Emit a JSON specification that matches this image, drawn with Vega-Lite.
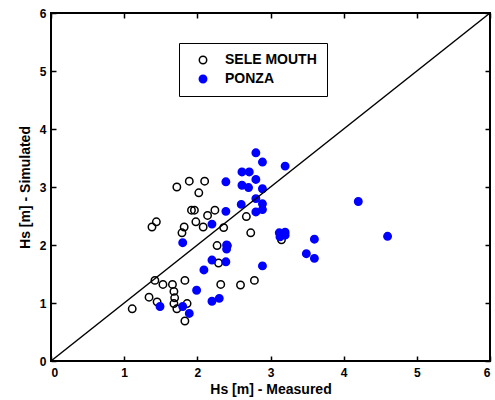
{
  "$schema": "https://vega.github.io/schema/vega-lite/v6.json",
  "width": 439,
  "height": 348,
  "autosize": {"type": "none"},
  "padding": {"left": 51, "top": 13, "right": 5, "bottom": 39},
  "background": "white",
  "config": {
    "view": {"stroke": "black", "strokeWidth": 2},
    "axis": {
      "labelFont": "Liberation Sans",
      "labelFontWeight": "bold",
      "labelFontSize": 12,
      "labelColor": "black",
      "titleFont": "Liberation Sans",
      "titleFontWeight": "bold",
      "titleFontSize": 14,
      "titleColor": "black",
      "domain": false,
      "grid": false,
      "tickColor": "black",
      "tickSize": -5,
      "tickWidth": 1.5
    },
    "legend": {
      "orient": "none",
      "legendX": 128,
      "legendY": 30,
      "padding": 10,
      "strokeColor": "black",
      "fillColor": "white",
      "labelFont": "Liberation Sans",
      "labelFontWeight": "bold",
      "labelFontSize": 14,
      "labelColor": "black",
      "symbolType": "circle",
      "symbolSize": 55,
      "symbolStrokeWidth": 1.5,
      "symbolOffset": 7,
      "labelOffset": 15,
      "rowPadding": 5
    }
  },
  "resolve": {"axis": {"x": "independent", "y": "independent"}},
  "layer": [
    {
      "data": {
        "values": [
          {"site": "SELE MOUTH", "measured": 1.72, "simulated": 3.00},
          {"site": "SELE MOUTH", "measured": 1.89, "simulated": 3.10},
          {"site": "SELE MOUTH", "measured": 2.10, "simulated": 3.10},
          {"site": "SELE MOUTH", "measured": 2.02, "simulated": 2.90},
          {"site": "SELE MOUTH", "measured": 1.92, "simulated": 2.60},
          {"site": "SELE MOUTH", "measured": 1.96, "simulated": 2.60},
          {"site": "SELE MOUTH", "measured": 1.44, "simulated": 2.40},
          {"site": "SELE MOUTH", "measured": 1.38, "simulated": 2.31},
          {"site": "SELE MOUTH", "measured": 1.82, "simulated": 2.31},
          {"site": "SELE MOUTH", "measured": 1.79, "simulated": 2.21},
          {"site": "SELE MOUTH", "measured": 1.98, "simulated": 2.40},
          {"site": "SELE MOUTH", "measured": 2.08, "simulated": 2.31},
          {"site": "SELE MOUTH", "measured": 2.14, "simulated": 2.51},
          {"site": "SELE MOUTH", "measured": 2.24, "simulated": 2.60},
          {"site": "SELE MOUTH", "measured": 2.67, "simulated": 2.49},
          {"site": "SELE MOUTH", "measured": 2.36, "simulated": 2.30},
          {"site": "SELE MOUTH", "measured": 2.73, "simulated": 2.21},
          {"site": "SELE MOUTH", "measured": 2.27, "simulated": 1.99},
          {"site": "SELE MOUTH", "measured": 2.41, "simulated": 1.99},
          {"site": "SELE MOUTH", "measured": 3.15, "simulated": 2.09},
          {"site": "SELE MOUTH", "measured": 1.42, "simulated": 1.39},
          {"site": "SELE MOUTH", "measured": 1.53, "simulated": 1.32},
          {"site": "SELE MOUTH", "measured": 1.66, "simulated": 1.32},
          {"site": "SELE MOUTH", "measured": 1.83, "simulated": 1.39},
          {"site": "SELE MOUTH", "measured": 1.68, "simulated": 1.20},
          {"site": "SELE MOUTH", "measured": 1.69, "simulated": 1.09},
          {"site": "SELE MOUTH", "measured": 1.34, "simulated": 1.10},
          {"site": "SELE MOUTH", "measured": 1.45, "simulated": 1.02},
          {"site": "SELE MOUTH", "measured": 1.11, "simulated": 0.90},
          {"site": "SELE MOUTH", "measured": 1.68, "simulated": 0.99},
          {"site": "SELE MOUTH", "measured": 1.86, "simulated": 0.99},
          {"site": "SELE MOUTH", "measured": 1.72, "simulated": 0.90},
          {"site": "SELE MOUTH", "measured": 1.83, "simulated": 0.69},
          {"site": "SELE MOUTH", "measured": 2.29, "simulated": 1.69},
          {"site": "SELE MOUTH", "measured": 2.32, "simulated": 1.32},
          {"site": "SELE MOUTH", "measured": 2.59, "simulated": 1.31},
          {"site": "SELE MOUTH", "measured": 2.78, "simulated": 1.39},
          {"site": "PONZA", "measured": 2.80, "simulated": 3.59},
          {"site": "PONZA", "measured": 2.89, "simulated": 3.43},
          {"site": "PONZA", "measured": 3.20, "simulated": 3.36},
          {"site": "PONZA", "measured": 2.61, "simulated": 3.26},
          {"site": "PONZA", "measured": 2.71, "simulated": 3.26},
          {"site": "PONZA", "measured": 2.39, "simulated": 3.09},
          {"site": "PONZA", "measured": 2.80, "simulated": 3.13},
          {"site": "PONZA", "measured": 2.61, "simulated": 3.03},
          {"site": "PONZA", "measured": 2.70, "simulated": 2.99},
          {"site": "PONZA", "measured": 2.89, "simulated": 2.97},
          {"site": "PONZA", "measured": 2.80, "simulated": 2.80},
          {"site": "PONZA", "measured": 2.60, "simulated": 2.70},
          {"site": "PONZA", "measured": 2.89, "simulated": 2.71},
          {"site": "PONZA", "measured": 2.89, "simulated": 2.61},
          {"site": "PONZA", "measured": 2.80, "simulated": 2.57},
          {"site": "PONZA", "measured": 2.39, "simulated": 2.58},
          {"site": "PONZA", "measured": 2.20, "simulated": 2.36},
          {"site": "PONZA", "measured": 4.20, "simulated": 2.75},
          {"site": "PONZA", "measured": 3.12, "simulated": 2.21},
          {"site": "PONZA", "measured": 3.20, "simulated": 2.22},
          {"site": "PONZA", "measured": 3.13, "simulated": 2.14},
          {"site": "PONZA", "measured": 3.20, "simulated": 2.17},
          {"site": "PONZA", "measured": 3.60, "simulated": 2.10},
          {"site": "PONZA", "measured": 4.60, "simulated": 2.15},
          {"site": "PONZA", "measured": 2.40, "simulated": 2.00},
          {"site": "PONZA", "measured": 2.40, "simulated": 1.93},
          {"site": "PONZA", "measured": 3.49, "simulated": 1.85},
          {"site": "PONZA", "measured": 3.60, "simulated": 1.77},
          {"site": "PONZA", "measured": 2.20, "simulated": 1.74},
          {"site": "PONZA", "measured": 2.39, "simulated": 1.71},
          {"site": "PONZA", "measured": 2.89, "simulated": 1.64},
          {"site": "PONZA", "measured": 2.09, "simulated": 1.57},
          {"site": "PONZA", "measured": 1.80, "simulated": 2.04},
          {"site": "PONZA", "measured": 1.99, "simulated": 1.22},
          {"site": "PONZA", "measured": 2.20, "simulated": 1.03},
          {"site": "PONZA", "measured": 2.30, "simulated": 1.08},
          {"site": "PONZA", "measured": 1.49, "simulated": 0.94},
          {"site": "PONZA", "measured": 1.80, "simulated": 0.94},
          {"site": "PONZA", "measured": 1.89, "simulated": 0.82}
        ]
      },
      "mark": {"type": "point", "size": 55, "strokeWidth": 1.5, "opacity": 1},
      "encoding": {
        "x": {
          "field": "measured",
          "type": "quantitative",
          "scale": {"domain": [0, 6], "nice": false},
          "axis": {
            "orient": "bottom",
            "values": [0, 1, 2, 3, 4, 5, 6],
            "title": "Hs [m] - Measured",
            "labelPadding": 11,
            "titlePadding": 4
          }
        },
        "y": {
          "field": "simulated",
          "type": "quantitative",
          "scale": {"domain": [0, 6], "nice": false},
          "axis": {
            "orient": "left",
            "values": [0, 1, 2, 3, 4, 5, 6],
            "title": "Hs [m] - Simulated",
            "labelPadding": 10,
            "titlePadding": 7
          }
        },
        "fill": {
          "field": "site",
          "type": "nominal",
          "sort": null,
          "scale": {"domain": ["SELE MOUTH", "PONZA"], "range": ["transparent", "blue"]},
          "legend": {"title": null}
        },
        "stroke": {
          "field": "site",
          "type": "nominal",
          "sort": null,
          "scale": {"domain": ["SELE MOUTH", "PONZA"], "range": ["black", "blue"]},
          "legend": {"title": null}
        }
      }
    },
    {
      "data": {"values": [{"measured": 0, "simulated": 0}, {"measured": 6, "simulated": 6}]},
      "mark": {"type": "line", "color": "black", "strokeWidth": 1.5},
      "encoding": {
        "x": {
          "field": "measured",
          "type": "quantitative",
          "axis": {"orient": "top", "values": [0, 1, 2, 3, 4, 5, 6], "labels": false, "title": null}
        },
        "y": {
          "field": "simulated",
          "type": "quantitative",
          "axis": {"orient": "right", "values": [0, 1, 2, 3, 4, 5, 6], "labels": false, "title": null}
        }
      }
    }
  ]
}
